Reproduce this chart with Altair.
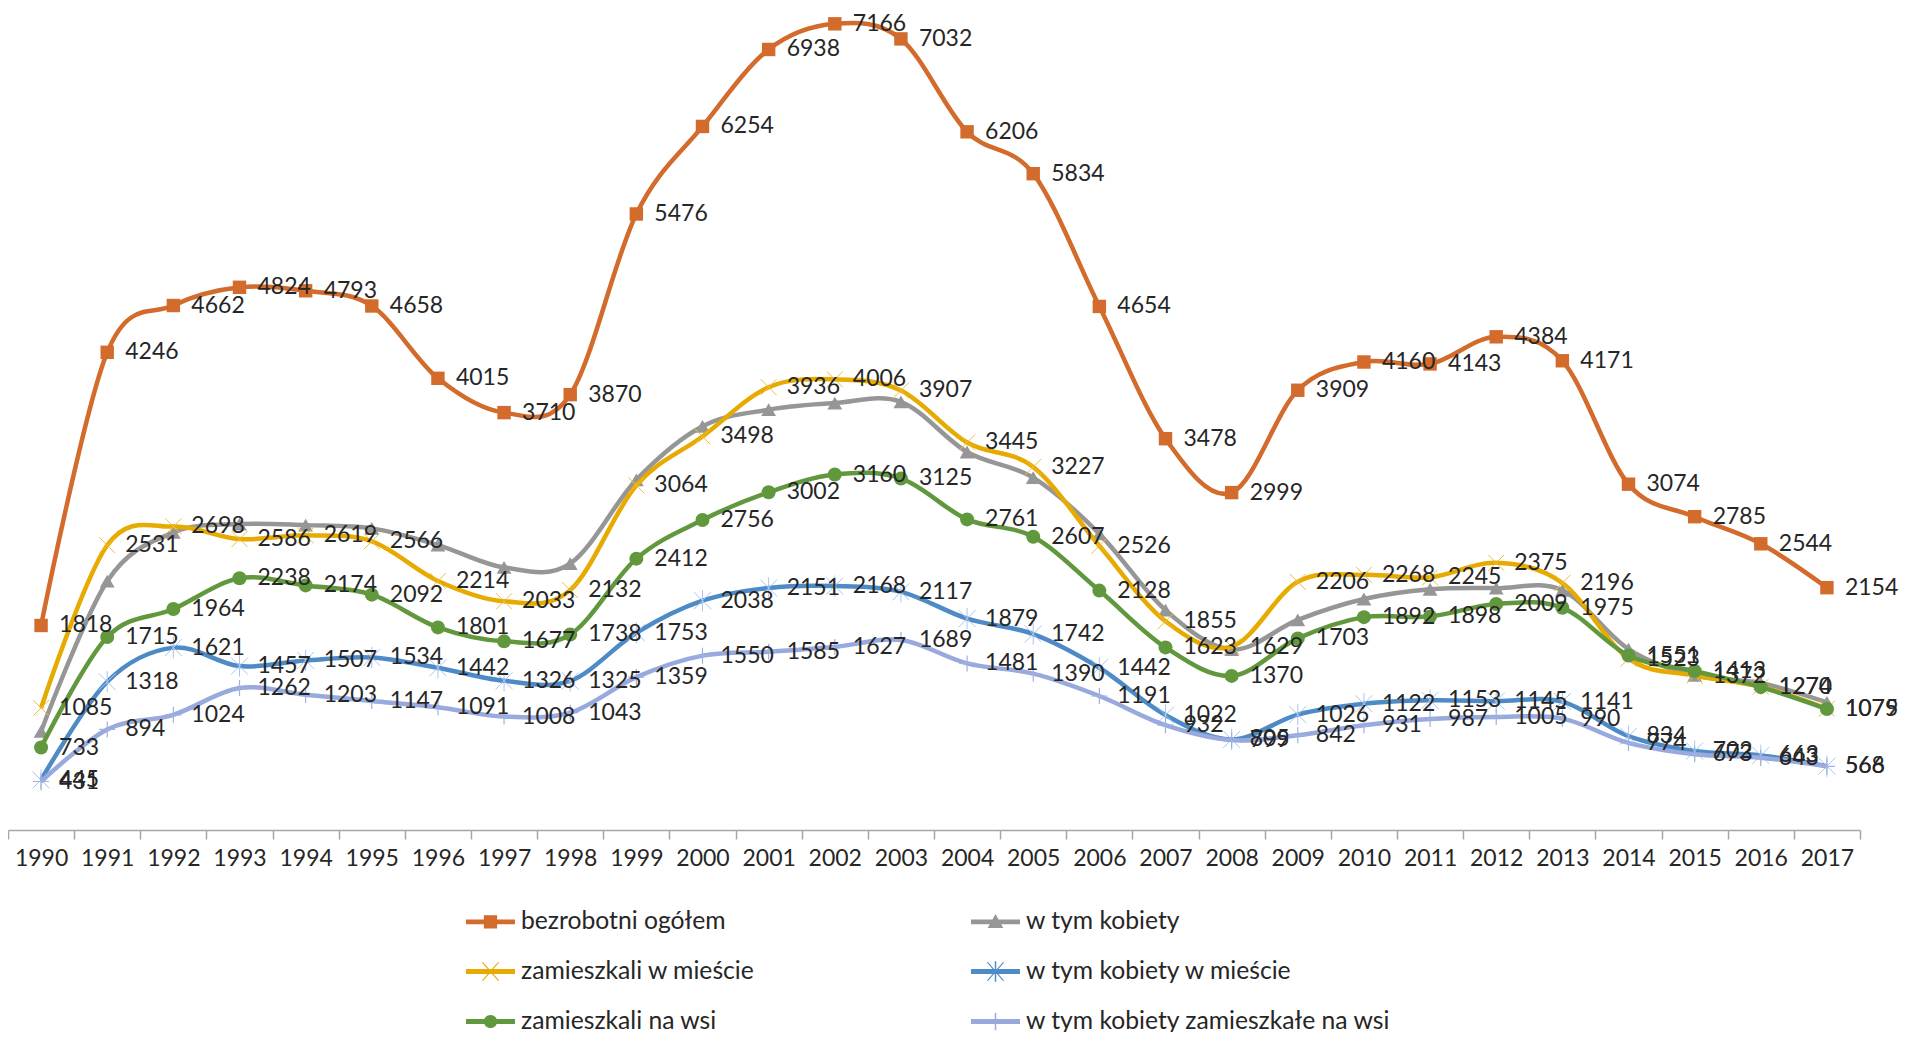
import altair as alt
import pandas as pd

years = [str(y) for y in range(1990, 2018)]

names = [
    "bezrobotni ogółem",
    "w tym kobiety",
    "zamieszkali w mieście",
    "w tym kobiety w mieście",
    "zamieszkali na wsi",
    "w tym kobiety zamieszkałe na wsi",
]

ogolem = [1818, 4246, 4662, 4824, 4793, 4658, 4015, 3710, 3870, 5476, 6254, 6938, 7166, 7032,
          6206, 5834, 4654, 3478, 2999, 3909, 4160, 4143, 4384, 4171, 3074, 2785, 2544, 2154]
kobiety = [876, 2212, 2645, 2719, 2710, 2681, 2533, 2334, 2368, 3112, 3588, 3736, 3795, 3806,
           3360, 3132, 2633, 1954, 1604, 1868, 2053, 2140, 2150, 2131, 1608, 1375, 1306, 1134]
miasto = [1085, 2531, 2698, 2586, 2619, 2566, 2214, 2033, 2132, 3064, 3498, 3936, 4006, 3907,
          3445, 3227, 2526, 1855, 1629, 2206, 2268, 2245, 2375, 2196, 1523, 1372, 1274, 1079]
kobiety_miasto = [445, 1318, 1621, 1457, 1507, 1534, 1442, 1326, 1325, 1753, 2038, 2151, 2168, 2117,
                  1879, 1742, 1442, 1022, 805, 1026, 1122, 1153, 1145, 1141, 834, 702, 663, 568]
wies = [733, 1715, 1964, 2238, 2174, 2092, 1801, 1677, 1738, 2412, 2756, 3002, 3160, 3125,
        2761, 2607, 2128, 1623, 1370, 1703, 1892, 1898, 2009, 1975, 1551, 1413, 1270, 1075]
kobiety_wies = [431, 894, 1024, 1262, 1203, 1147, 1091, 1008, 1043, 1359, 1550, 1585, 1627, 1689,
                1481, 1390, 1191, 932, 799, 842, 931, 987, 1005, 990, 774, 673, 643, 566]

colors = ["#D26B2B", "#969696", "#E6AA00", "#4E8BC6", "#62983D", "#97A9DD"]
marker_colors = ["#D26B2B", "#969696", "#F0BE3C", "#A9C6EC", "#62983D", "#9FB0E2"]
labelled = [True, False, True, True, True, True]

series_values = [ogolem, kobiety, miasto, kobiety_miasto, wies, kobiety_wies]

rows = []
for i, (n, vals) in enumerate(zip(names, series_values)):
    for y, v in zip(years, vals):
        rows.append({"rok": y, "seria": n, "wartosc": v, "idx": i})
df = pd.DataFrame(rows)

FONT = "Lato"
FS = 23
TXT = "#262626"

X = alt.X(
    "rok:N",
    bandPosition=0.5,
    scale=alt.Scale(type="band", domain=years, paddingInner=0, paddingOuter=0),
    axis=alt.Axis(
        title=None, labelAngle=0, tickBand="extent", grid=False,
        domainColor="#a6a6a6", tickColor="#a6a6a6", domainWidth=1.5, tickWidth=1.5,
        tickSize=9, labelPadding=8, labelFont=FONT, labelFontSize=FS, labelColor=TXT,
    ),
)
Y = alt.Y("wartosc:Q", scale=alt.Scale(domain=[0, 7200], nice=False, zero=True), axis=None)

# chart markers (custom paths for Excel-like x / star / plus)
X_PATH = "M-1,-1L1,1M-1,1L1,-1"
STAR_PATH = "M-1,-1L1,1M-1,1L1,-1M0,-1.25L0,1.25"
PLUS_PATH = "M-1,0L1,0M0,-1L0,1"
marker_defs = [
    dict(shape="square", filled=True, size=180),
    dict(shape="triangle-up", filled=True, size=220),
    dict(shape=X_PATH, filled=False, size=256, strokeWidth=1),
    dict(shape=STAR_PATH, filled=False, size=289, strokeWidth=1),
    dict(shape="circle", filled=True, size=196),
    dict(shape=PLUS_PATH, filled=False, size=256, strokeWidth=1.2),
]

layers = []
for i, n in enumerate(names):
    base = alt.Chart(df).transform_filter(alt.datum.idx == i)
    line = base.mark_line(interpolate="cardinal", strokeWidth=4.5, color=colors[i]).encode(x=X, y=Y)
    md = marker_defs[i]
    pt = base.mark_point(opacity=1, color=marker_colors[i], **md).encode(x=X, y=Y)
    layers += [line, pt]

for i, n in enumerate(names):
    if not labelled[i]:
        continue
    txt = alt.Chart(df).transform_filter(alt.datum.idx == i).mark_text(
        align="left", baseline="middle", dx=18, font=FONT, fontSize=FS, color=TXT
    ).encode(x=X, y=Y, text=alt.Text("wartosc:Q", format="d"))
    layers.append(txt)

# legend symbols: line + marker drawn as filled paths in unit space
LINE = "M-1,-0.1H1V0.1H-1Z"
leg_paths = [
    LINE + "M-0.27,-0.27H0.27V0.27H-0.27Z",
    LINE + "M0,-0.32L0.32,0.25H-0.32Z",
    LINE + "M-0.36,-0.38L-0.3,-0.38L0.36,0.38L0.3,0.38Z M0.3,-0.38L0.36,-0.38L-0.3,0.38L-0.36,0.38Z",
    LINE + "M-0.36,-0.38L-0.3,-0.38L0.36,0.38L0.3,0.38Z M0.3,-0.38L0.36,-0.38L-0.3,0.38L-0.36,0.38Z M-0.03,-0.42H0.03V0.42H-0.03Z",
    LINE + "M-0.27,0A0.27,0.27,0,1,1,0.27,0A0.27,0.27,0,1,1,-0.27,0Z",
    LINE + "M-0.03,-0.36H0.03V0.36H-0.03Z",
]

legend = alt.Legend(
    title=None, orient="none", legendX=458, legendY=877, columns=2, direction="horizontal",
    symbolSize=2401, symbolStrokeWidth=0, symbolOpacity=1, labelFont=FONT, labelFontSize=24.7,
    labelColor=TXT, labelOffset=6, labelLimit=800, rowPadding=13, columnPadding=216, padding=0,
)
leg_layer = alt.Chart(df).transform_filter(alt.datum.rok == "1990").mark_point(
    filled=True, opacity=0
).encode(
    x=X, y=Y,
    color=alt.Color("seria:N", scale=alt.Scale(domain=names, range=colors), legend=legend),
    shape=alt.Shape("seria:N", scale=alt.Scale(domain=names, range=leg_paths), legend=legend),
)
layers.append(leg_layer)

chart = alt.layer(*layers).properties(
    width=1852, height=810,
    autosize=alt.AutoSizeParams(type="none"),
    padding={"left": 0, "top": 12, "right": 39, "bottom": 202},
).configure_view(stroke=None)

chart.save("out.html", embed_options={"renderer": "svg", "actions": False})
